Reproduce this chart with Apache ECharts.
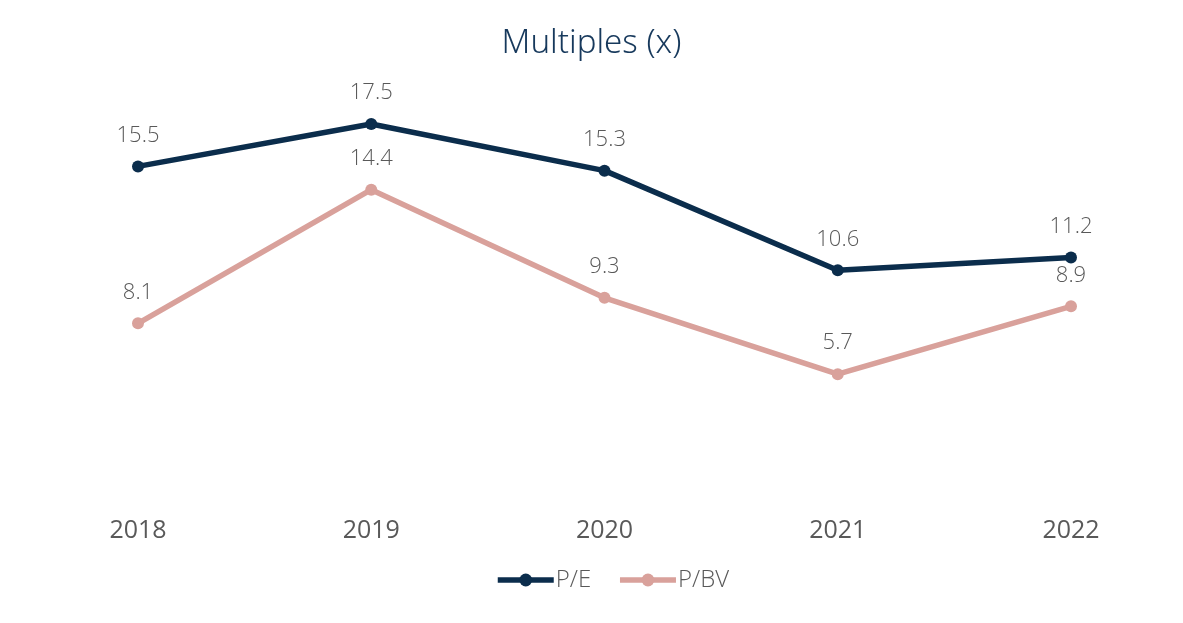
<!DOCTYPE html>
<html>
<head>
<meta charset="utf-8">
<script src="https://cdn.jsdelivr.net/npm/echarts@6/dist/echarts.min.js"></script>
<style>html,body{margin:0;padding:0;background:#fff}#c{width:1183px;height:623px}</style>
</head>
<body>
<div id="c"></div>
<script>
var categories = ['2018', '2019', '2020', '2021', '2022'];
var peValues = [15.5, 17.5, 15.3, 10.6, 11.2];
var pbvValues = [8.1, 14.4, 9.3, 5.7, 8.9];
var seriesNames = ['P/E', 'P/BV'];
var titleText = 'Multiples (x)';

var chart = echarts.init(document.getElementById('c'));
var labelStyle = {
  show: true, position: 'top', distance: 14,
  color: '#595959', fontSize: 22, fontFamily: 'Open Sans', fontWeight: 300,
  formatter: function (p) { return p.value.toFixed(1); }
};
chart.setOption({
  animation: false,
  backgroundColor: '#fff',
  title: {
    text: titleText, left: 'center', top: 22,
    textStyle: { color: '#17395c', fontSize: 33, fontWeight: 300, fontFamily: 'Noto Sans' }
  },
  legend: {
    bottom: 26, left: 490, itemWidth: 56, itemHeight: 16, itemGap: 26,
    lineStyle: { width: 5.5 },
    textStyle: { color: '#595959', fontSize: 24, fontFamily: 'Open Sans', fontWeight: 300, padding: [0, 0, 0, -3] },
    data: seriesNames
  },
  grid: { left: 138, right: 112, top: 71, bottom: 128 },
  xAxis: {
    type: 'category', data: categories, boundaryGap: false,
    axisLine: { show: false }, axisTick: { show: false },
    axisLabel: { color: '#595959', fontSize: 25, fontFamily: 'Open Sans', fontWeight: 500, margin: 23 }
  },
  yAxis: { type: 'value', min: 0, max: 20, show: false, splitLine: { show: false } },
  series: [
    {
      name: seriesNames[0], type: 'line', data: peValues,
      symbol: 'circle', symbolSize: 12,
      lineStyle: { width: 5.5, color: '#0b2d4c' }, itemStyle: { color: '#0b2d4c' },
      label: labelStyle
    },
    {
      name: seriesNames[1], type: 'line', data: pbvValues,
      symbol: 'circle', symbolSize: 12,
      lineStyle: { width: 5.5, color: '#d9a19b' }, itemStyle: { color: '#d9a19b' },
      label: labelStyle
    }
  ]
});
</script>
</body>
</html>
